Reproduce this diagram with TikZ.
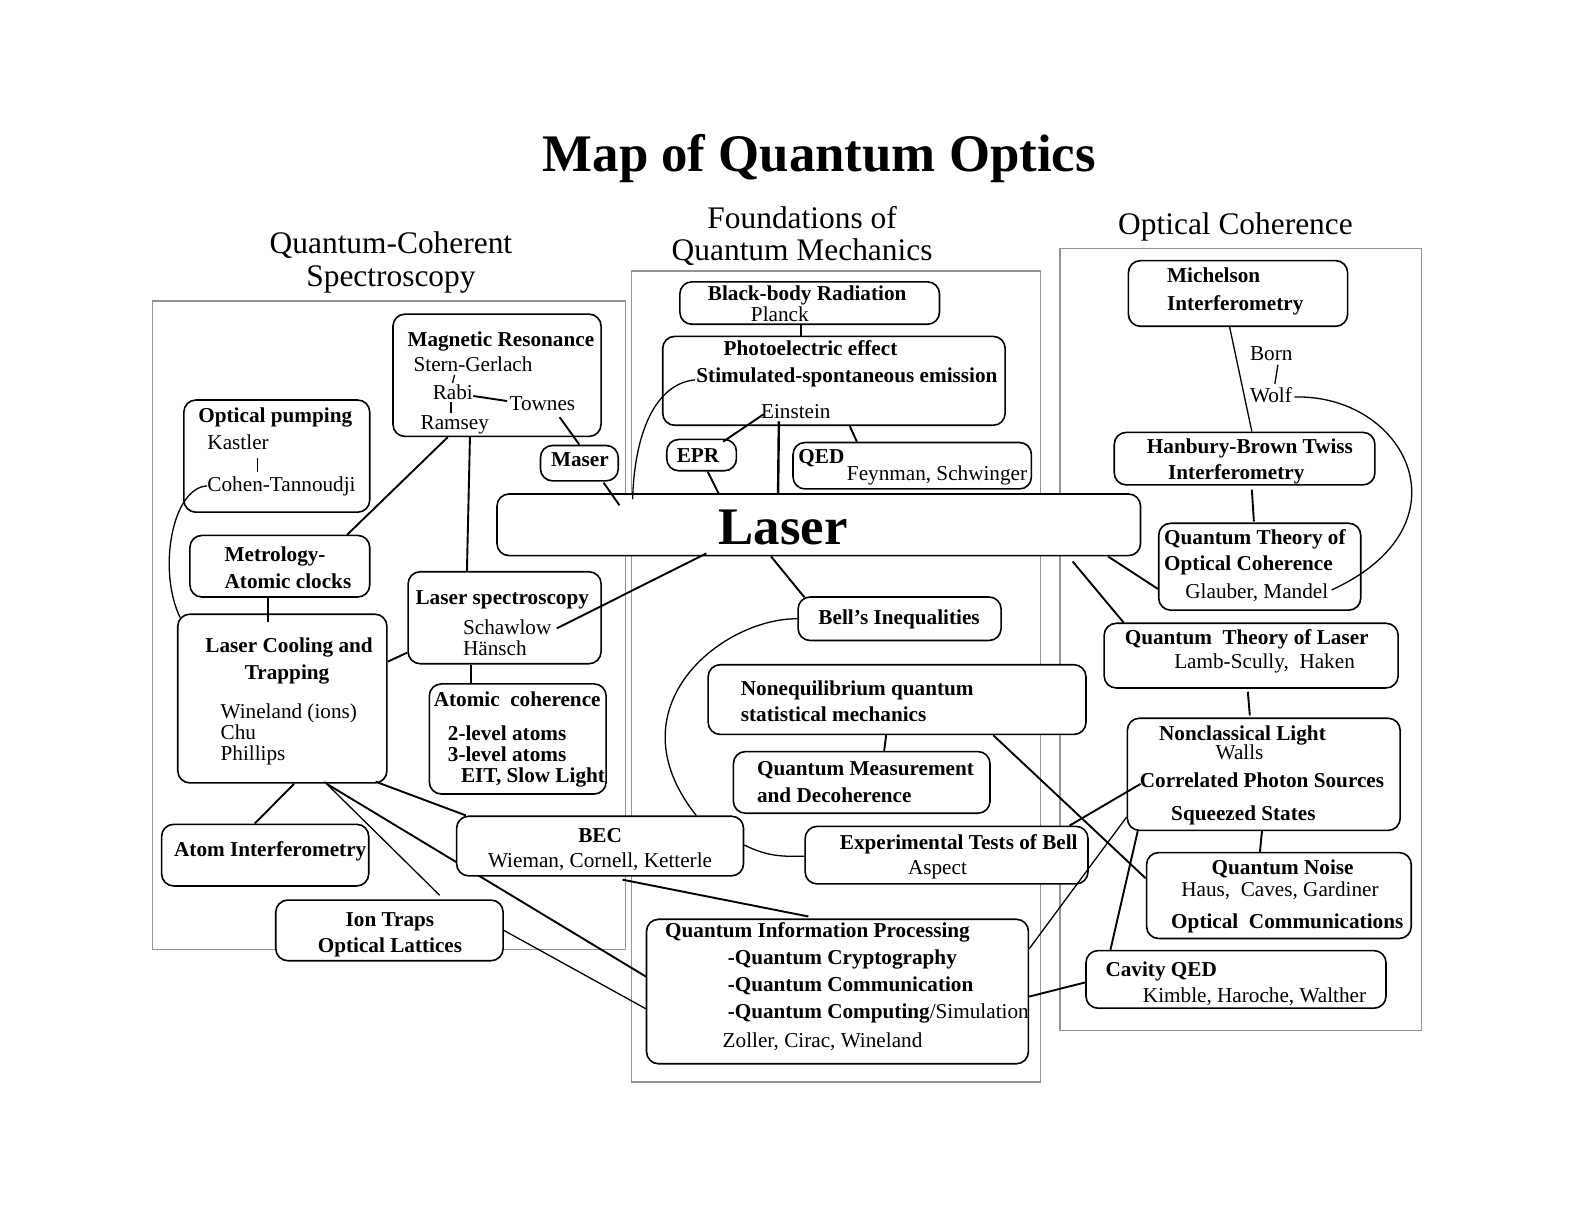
\documentclass[tikz,border=0pt]{standalone}
\usepackage{fontspec}
\setmainfont{Liberation Serif}
\pgfdeclarelayer{frames}
\pgfdeclarelayer{lines}
\pgfdeclarelayer{top}
\pgfsetlayers{frames,lines,main,top}
\tikzset{
 qb/.style={draw, rounded corners=6pt, line width=0.8pt, fill=white, inner sep=0pt},
 tr/.style={inner sep=0pt, anchor=base west, font=\fontsize{10.6}{12}\selectfont},
 tb/.style={tr, font=\fontsize{10.6}{12}\selectfont\bfseries},
 trc/.style={tr, anchor=base},
 tbc/.style={tb, anchor=base},
 con/.style={line width=0.95pt},
 thn/.style={line width=0.65pt},
 frm/.style={draw=black!42, line width=0.8pt},
 head/.style={inner sep=0pt, anchor=base, font=\fontsize{15.7}{18}\selectfont},
 big/.style={inner sep=0pt, anchor=base, font=\fontsize{26.4}{30}\selectfont\bfseries},
}
\newcommand\qbox[5]{\node[qb, minimum width={(#4-#2)*0.50505pt}, minimum height={(#5-#3)*0.50505pt}] (#1) at ({(#2+#4)/2},{(#3+#5)/2}) {};}
\begin{document}
\begin{tikzpicture}[x=0.50505pt, y=-0.50505pt]
\useasboundingbox (0,0) rectangle (1568,1211.6);
% frames
\begin{pgfonlayer}{frames}
\draw[frm] (151,298) rectangle (619,940);
\draw[frm] (625,268) rectangle (1030,1071);
\draw[frm] (1049,246) rectangle (1407,1020);
\end{pgfonlayer}
% title and headings
\node[big] (title) at (811,170) {Map of Quantum Optics};
\node[head] (h1a) at (387,251) {Quantum-Coherent};
\node[head] (h1b) at (387,284) {Spectroscopy};
\node[head] (h2a) at (794,226) {Foundations of};
\node[head] (h2b) at (794,258) {Quantum Mechanics};
\node[head] (h3) at (1223,232) {Optical Coherence};
% ---- left section
\qbox{op}{182}{396}{366}{507}
\node[tb] (op1) at (196,418) {Optical pumping};
\node[tr] (kast) at (205,445) {Kastler};
\node[tr] (cohen) at (205,487) {Cohen-Tannoudji};
\qbox{metro}{188}{530}{366}{591}
\node[tb] (metro1) at (222,556) {Metrology-};
\node[tb] (metro2) at (222,583) {Atomic clocks};
\qbox{lc}{176}{608}{383}{775}
\node[tb] (lc1) at (203,646) {Laser Cooling and};
\node[tb] (lc2) at (242,673) {Trapping};
\node[tr] (lc3) at (218,711) {Wineland (ions)};
\node[tr] (lc4) at (218,732) {Chu};
\node[tr] (lc5) at (218,753) {Phillips};
\qbox{mr}{389}{311}{595}{432}
\node[tb] (mr1) at (403,343) {Magnetic Resonance};
\node[tr] (sg) at (409,368) {Stern-Gerlach};
\node[tr] (rabi) at (428,395) {Rabi};
\node[tr] (townes) at (504,406) {Townes};
\node[tr] (ramsey) at (416,425) {Ramsey};
\qbox{maser}{535}{441}{612}{476}
\node[tbc] (masert) at (574,462) {Maser};
\qbox{ls}{404}{566}{595}{657}
\node[tb] (ls1) at (411,598) {Laser spectroscopy};
\node[tr] (schaw) at (458,628) {Schawlow};
\node[tr] (hansch) at (458,649) {Hänsch};
\qbox{ac}{425}{677}{600}{786}
\node[tb] (ac1) at (429,699) {Atomic\ \ coherence};
\node[tb] (ac2) at (443,733) {2-level atoms};
\node[tb] (ac3) at (443,754) {3-level atoms};
\node[tb] (ac4) at (456,775) {EIT, Slow Light};
\qbox{ai}{160}{816}{365}{877}
\node[tb] (ai1) at (172,848) {Atom Interferometry};
\qbox{ion}{273}{891}{498}{951}
\node[tbc] (ion1) at (386,917) {Ion Traps};
\node[tbc] (ion2) at (386,943) {Optical Lattices};
\qbox{bec}{452}{808}{736}{867}
\node[tbc] (bec1) at (594,834) {BEC};
\node[trc] (bec2) at (594,859) {Wieman, Cornell, Ketterle};
% ---- middle section
\qbox{bb}{673}{279}{930}{321}
\node[tbc] (bb1) at (799,297) {Black-body Radiation};
\node[tr] (planck) at (743,318) {Planck};
\qbox{pe}{656}{333}{995}{421}
\node[tb] (pe1) at (716,352) {Photoelectric effect};
\node[tb] (pe2) at (689,379) {Stimulated-spontaneous emission};
\node[tr] (einst) at (753,414) {Einstein};
\qbox{epr}{660}{435}{729}{466}
\node[tbc] (epr1) at (691,458) {EPR};
\qbox{qed}{785}{438}{1021}{484}
\node[tb] (qed1) at (790,459) {QED};
\node[tr] (qed2) at (838,476) {Feynman, Schwinger};
\qbox{laser}{492}{489}{1129}{550}
\node[big] (lasert) at (775,539) {Laser};
\qbox{bell}{790}{591}{991}{634}
\node[tbc] (bell1) at (890,618) {Bell’s Inequalities};
\qbox{neq}{701}{658}{1075}{727}
\node[tb] (neq1) at (733,688) {Nonequilibrium quantum};
\node[tb] (neq2) at (733,714) {statistical mechanics};
\qbox{qm}{726}{744}{980}{805}
\node[tb] (qm1) at (749,768) {Quantum Measurement};
\node[tb] (qm2) at (749,794) {and Decoherence};
\qbox{eb}{797}{818}{1077}{875}
\node[tb] (eb1) at (831,841) {Experimental Tests of Bell};
\node[trc] (eb2) at (928,866) {Aspect};
\qbox{qip}{640}{910}{1018}{1053}
\node[tb] (qip1) at (658,928) {Quantum Information Processing};
\node[tb] (qip2) at (720,955) {-Quantum Cryptography};
\node[tb] (qip3) at (720,981) {-Quantum Communication};
\node[tr] (qip4) at (720,1008) {\textbf{-Quantum Computing}/Simulation};
\node[tr] (qip5) at (715,1037) {Zoller, Cirac, Wineland};
% ---- right section
\qbox{mi}{1117}{258}{1334}{323}
\node[tb] (mi1) at (1155,280) {Michelson};
\node[tb] (mi2) at (1155,307) {Interferometry};
\node[tr] (born) at (1237,357) {Born};
\node[tr] (wolf) at (1237,398) {Wolf};
\qbox{hbt}{1103}{428}{1361}{480}
\node[tb] (hbt1) at (1135,449) {Hanbury-Brown Twiss};
\node[tb] (hbt2) at (1156,475) {Interferometry};
\qbox{qtoc}{1147}{518}{1347}{604}
\node[tb] (qtoc1) at (1152,539) {Quantum Theory of};
\node[tb] (qtoc2) at (1152,565) {Optical Coherence};
\node[tr] (glau) at (1173,592) {Glauber, Mandel};
\qbox{qtl}{1093}{617}{1384}{681}
\node[tb] (qtl1) at (1113,638) {Quantum\ \ Theory of Laser};
\node[tr] (qtl2) at (1162,662) {Lamb-Scully,\ \ Haken};
\qbox{ncl}{1116}{711}{1386}{822}
\node[tb] (ncl1) at (1147,733) {Nonclassical Light};
\node[tr] (walls) at (1203,752) {Walls};
\node[tb] (corr) at (1128,780) {Correlated Photon Sources};
\node[tb] (sq) at (1159,812) {Squeezed States};
\qbox{qn}{1135}{844}{1397}{929}
\node[tb] (qn1) at (1199,866) {Quantum Noise};
\node[tr] (qn2) at (1169,887) {Haus,\ \ Caves, Gardiner};
\node[tb] (qn3) at (1159,919) {Optical\ \ Communications};
\qbox{cav}{1075}{941}{1372}{998}
\node[tb] (cav1) at (1094,967) {Cavity QED};
\node[tr] (cav2) at (1131,992) {Kimble, Haroche, Walther};
% ---- connector hidden behind BEC
\begin{pgfonlayer}{lines}
\draw[con] ([shift={(148,0)}]lc.south west) -- ([shift={(1,58)}]qip.north west);
\end{pgfonlayer}
% ---- connectors
\begin{pgfonlayer}{top}
% left
\draw[thn] ([shift={(41,3)}]sg.base west) -- ([shift={(20,-16)}]rabi.base west);
\draw[thn] ([shift={(18.5,3)}]rabi.base west) -- ([shift={(30.5,-16)}]ramsey.base west);
\draw[con] ([shift={(40.5,-3)}]rabi.base west) -- ([shift={(-2,-9)}]townes.base west);
\draw[con] ([shift={(50,7)}]townes.base west) -- (maser.north);
\draw[con] ([shift={(24,1)}]maser.south) -- ([shift={(122,12)}]laser.north west);
\draw[con] ([shift={(55,0)}]mr.south west) -- ([shift={(-23,0)}]metro.north east);
\draw[con] ([shift={(77,0)}]mr.south west) -- ([shift={(59,0)}]ls.north west);
\draw[thn] ([shift={(50,8)}]kast.base west) -- ([shift={(50,-20)}]cohen.base west);
\draw[thn] ([shift={(0,-6)}]cohen.base west) .. controls (170,483) and (156,565) .. ([shift={(3,4)}]lc.north west);
\draw[con] ([shift={(78,0)}]metro.south west) -- ([shift={(90,9)}]lc.north west);
\draw[con] ([shift={(0,-36.5)}]lc.east) -- ([shift={(0,34.5)}]ls.west);
\draw[con] ([shift={(63,0)}]ls.south west) -- ([shift={(42,0)}]ac.north west);
\draw[con] ([shift={(116,0)}]lc.south west) -- ([shift={(93,0)}]ai.north west);
\draw[thn] ([shift={(146,-2)}]lc.south west) -- ([shift={(163,-4)}]ion.north west);
\draw[con] ([shift={(-12,-2)}]lc.south east) -- ([shift={(10,0)}]bec.north west);
\draw[thn] (ion.east) -- ([shift={(0,17)}]qip.west);
% middle
\draw[con] ([shift={(121,0)}]bb.south west) -- ([shift={(138,0)}]pe.north west);
\draw[thn] ([shift={(-1,-3)}]pe2.base west) .. controls (648,380) and (628,430) .. ([shift={(135,6)}]laser.north west);
\draw[con] ([shift={(3,-4)}]einst.base west) -- ([shift={(-14,3)}]epr.north east);
\draw[line width=1.2pt] ([shift={(18,3)}]einst.base west) -- ([shift={(279,0)}]laser.north west);
\draw[con] ([shift={(186,0)}]pe.south west) -- ([shift={(64,0)}]qed.north west);
\draw[con] ([shift={(6,0)}]epr.south) -- ([shift={(220,0)}]laser.north west);
\draw[con] ([shift={(208,-3)}]laser.south west) -- ([shift={(5,-6)}]schaw.base east);
\draw[con] ([shift={(272,0)}]laser.south west) -- ([shift={(7,1)}]bell.north west);
\draw[thn] (bell.west) .. controls (715,612) and (604,700) .. ([shift={(238,0)}]bec.north west);
\draw[thn] ([shift={(0,-1)}]bec.east) .. controls (760,848) and (775,848) .. ([shift={(0,1)}]eb.west);
\draw[con] ([shift={(165,3)}]bec.south west) -- ([shift={(161,-2)}]qip.north west);
\draw[con] ([shift={(177,0)}]neq.south west) -- ([shift={(150,0)}]qm.north west);
\draw[con] ([shift={(283,0)}]neq.south west) -- ([shift={(0,-17)}]qn.west);
% right
\draw[con] ([shift={(-33,0)}]laser.south east) -- ([shift={(0,22)}]qtoc.west);
\draw[con] ([shift={(-68,5)}]laser.south east) -- ([shift={(20,0)}]qtl.north west);
\draw[thn] ([shift={(101,0)}]mi.south west) -- ([shift={(137,0)}]hbt.north west);
\draw[thn] ([shift={(28,4)}]born.base west) -- ([shift={(25,-18)}]wolf.base west);
\draw[thn] ([shift={(2,-5)}]wolf.base east) .. controls (1392,390) and (1458,520) .. ([shift={(3,-8)}]glau.base east);
\draw[con] ([shift={(137,4)}]hbt.south west) -- ([shift={(95,-1)}]qtoc.north west);
\draw[con] ([shift={(143,3)}]qtl.south west) -- ([shift={(122,-2)}]ncl.north west);
\draw[con] ([shift={(134,0)}]ncl.south west) -- ([shift={(113,0)}]qn.north west);
\draw[con] ([shift={(1,-4)}]corr.base west) -- ([shift={(-19,0)}]eb.north east);
\draw[thn] ([shift={(0,-14)}]ncl.south west) -- ([shift={(0,30)}]qip.north east);
\draw[con] ([shift={(11,0)}]ncl.south west) -- ([shift={(25,0)}]cav.north west);
\draw[con] ([shift={(0,3)}]cav.west) -- ([shift={(0,5)}]qip.east);
\end{pgfonlayer}
\end{tikzpicture}
\end{document}
